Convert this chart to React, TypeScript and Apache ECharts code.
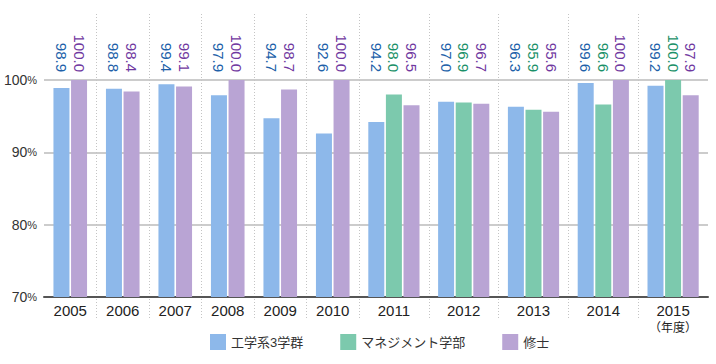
import React, { useEffect, useRef } from "react";
import * as echarts from "echarts";

const years1 = ["2005", "2006", "2007", "2008", "2009", "2010"];
const years2 = ["2011", "2012", "2013", "2014", "2015"];
const eng1 = [98.9, 98.8, 99.4, 97.9, 94.7, 92.6];
const master1 = [100.0, 98.4, 99.1, 100.0, 98.7, 100.0];
const eng2 = [94.2, 97.0, 96.3, 99.6, 99.2];
const mgmt2 = [98.0, 96.9, 95.9, 96.6, 100.0];
const master2 = [96.5, 96.7, 95.6, 100.0, 97.9];
const seriesNames = ["工学系3学群", "マネジメント学部", "修士"];
const yMin = 70;
const yMax = 100;
const yStep = 10;
const yearSuffix = "（年度）";

const FONT = "'Liberation Sans', 'Noto Sans CJK JP', sans-serif";
const BAR_COLORS = ["#8db8ea", "#7cc9ad", "#b9a4d4"];
const LABEL_COLORS = ["#2060a8", "#1a9068", "#7038a0"];

const G1 = { left: 44, width: 315 };
const G2 = { left: 359, width: 349 };

export default function App() {
  const ref = useRef<HTMLDivElement>(null);
  useEffect(() => {
    if (!ref.current) return;
    const chart = echarts.init(ref.current, null, { renderer: "svg" });

    const mainBar = (name: string, data: number[], ci: number, idx: number) => ({
      type: "bar",
      name,
      data,
      xAxisIndex: idx,
      yAxisIndex: idx,
      barWidth: 16,
      barGap: "10%",
      itemStyle: { color: BAR_COLORS[ci] },
      silent: true,
    });
    const labelBar = (data: number[], ci: number, idx: number) => ({
      type: "bar",
      name: "lbl" + ci + "_" + idx,
      data: data.map(() => 0),
      xAxisIndex: idx,
      yAxisIndex: idx,
      barWidth: 16,
      barGap: "10%",
      itemStyle: { color: "transparent" },
      silent: true,
      label: {
        show: true,
        position: "top",
        distance: 0,
        rotate: -90,
        align: "right",
        verticalAlign: "middle",
        fontSize: 15,
        fontFamily: FONT,
        color: LABEL_COLORS[ci],
        formatter: (p: any) => data[p.dataIndex].toFixed(1),
      },
    });

    const hiddenY = { type: "value", show: false, min: 0, max: 1 };
    const sepX = (data: string[], idx: number, showMin: boolean) => ({
      type: "category",
      gridIndex: idx,
      data,
      axisLine: { show: false },
      axisTick: { show: false },
      axisLabel: { show: false },
      splitLine: {
        show: true,
        interval: 0,
        showMinLine: showMin,
        showMaxLine: false,
        lineStyle: { type: [1, 2], color: "#c4c4c4", width: 1 },
      },
    });
    const mainX = (data: string[], idx: number) => ({
      type: "category",
      gridIndex: idx,
      data,
      axisLine: { show: true, lineStyle: { color: "#555", width: 2 } },
      axisTick: { show: false },
      splitLine: { show: false },
      axisLabel: {
        interval: 0,
        margin: 5,
        fontSize: 15,
        lineHeight: 17,
        color: "#222",
        fontFamily: FONT,
        formatter: (v: string) =>
          v === years2[years2.length - 1] ? v + "\n{s|" + yearSuffix + "}" : v,
        rich: { s: { fontSize: 12, lineHeight: 17, color: "#222", fontFamily: FONT } },
      },
    });
    const mainY = (idx: number, showLabels: boolean) => ({
      type: "value",
      gridIndex: idx,
      min: yMin,
      max: yMax,
      interval: yStep,
      axisLine: { show: false },
      axisTick: { show: false },
      splitLine: { show: true, lineStyle: { color: "#cccccc", width: 2 } },
      axisLabel: {
        show: showLabels,
        margin: 7,
        formatter: (v: number) => "{n|" + v + "}{p|%}",
        rich: {
          n: { fontSize: 14, color: "#333", fontFamily: FONT },
          p: { fontSize: 11, color: "#333", fontFamily: FONT },
        },
      },
    });

    chart.setOption({
      animation: false,
      textStyle: { fontFamily: FONT },
      grid: [
        { left: G1.left, width: G1.width, top: 14, height: 304 },
        { left: G2.left, width: G2.width, top: 14, height: 304 },
        { left: G1.left, width: G1.width, top: 14, height: 58 },
        { left: G2.left, width: G2.width, top: 14, height: 58 },
        { left: G1.left, width: G1.width, top: 80, height: 217 },
        { left: G2.left, width: G2.width, top: 80, height: 217 },
      ],
      xAxis: [
        sepX(years1, 0, false),
        sepX(years2, 1, true),
        { type: "category", gridIndex: 2, data: years1, show: false },
        { type: "category", gridIndex: 3, data: years2, show: false },
        mainX(years1, 4),
        mainX(years2, 5),
      ],
      yAxis: [
        { ...hiddenY, gridIndex: 0 },
        { ...hiddenY, gridIndex: 1 },
        { ...hiddenY, gridIndex: 2 },
        { ...hiddenY, gridIndex: 3 },
        mainY(4, true),
        mainY(5, false),
      ],
      legend: {
        data: seriesNames,
        left: 210,
        top: 334,
        padding: 0,
        itemWidth: 16,
        itemHeight: 16,
        itemGap: 37,
        icon: "rect",
        selectedMode: false,
        textStyle: { fontSize: 13, color: "#333", fontFamily: FONT },
      },
      series: [
        labelBar(eng1, 0, 2),
        labelBar(master1, 2, 2),
        labelBar(eng2, 0, 3),
        labelBar(mgmt2, 1, 3),
        labelBar(master2, 2, 3),
        mainBar(seriesNames[0], eng1, 0, 4),
        mainBar(seriesNames[2], master1, 2, 4),
        mainBar(seriesNames[0], eng2, 0, 5),
        mainBar(seriesNames[1], mgmt2, 1, 5),
        mainBar(seriesNames[2], master2, 2, 5),
      ],
    });
    return () => chart.dispose();
  }, []);
  return (
    <div
      ref={ref}
      style={{ position: "absolute", left: 0, top: 0, width: 716, height: 364, background: "#fff" }}
    />
  );
}
